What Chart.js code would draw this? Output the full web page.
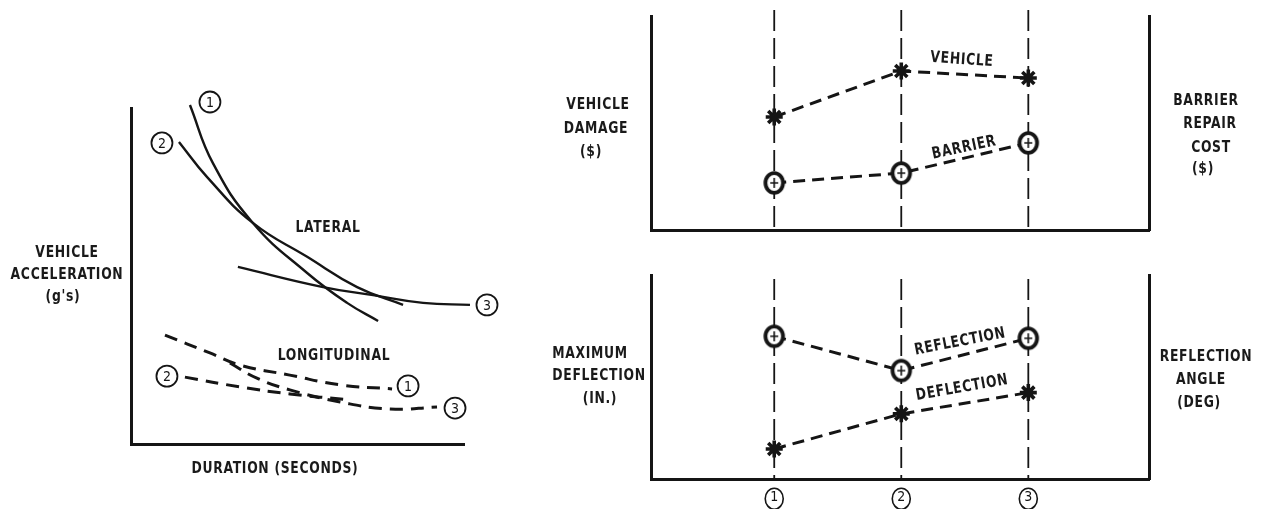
<!DOCTYPE html>
<html><head><meta charset="utf-8">
<script src="https://cdn.jsdelivr.net/npm/chart.js@4.4.0/dist/chart.umd.min.js"></script>
<style>
html,body{margin:0;padding:0;background:#fff;width:1268px;height:509px;overflow:hidden;position:relative}
.box{position:absolute}
.t{position:absolute;transform:translate(-50%,-50%) scaleX(0.86);white-space:nowrap;font:bold 16px "Liberation Sans Narrow","DejaVu Sans Condensed",sans-serif;letter-spacing:0.8px;color:#1a1a1a;line-height:1}
</style></head><body>
<div class="box" style="left:0;top:0;width:545px;height:509px"><canvas id="c1"></canvas></div>
<div class="box" style="left:540px;top:0;width:728px;height:250px"><canvas id="c2"></canvas></div>
<div class="box" style="left:540px;top:250px;width:728px;height:270px"><canvas id="c3"></canvas></div>

<div class="t" style="left:67px;top:252px">VEHICLE</div>
<div class="t" style="left:67px;top:274px">ACCELERATION</div>
<div class="t" style="left:63px;top:296px">(g's)</div>
<div class="t" style="left:275px;top:468px">DURATION (SECONDS)</div>
<div class="t" style="left:328px;top:227px">LATERAL</div>
<div class="t" style="left:334px;top:355px">LONGITUDINAL</div>

<div class="t" style="left:598px;top:104px">VEHICLE</div>
<div class="t" style="left:596px;top:128px">DAMAGE</div>
<div class="t" style="left:591px;top:151px">($)</div>
<div class="t" style="left:1206px;top:100px">BARRIER</div>
<div class="t" style="left:1210px;top:123px">REPAIR</div>
<div class="t" style="left:1211px;top:147px">COST</div>
<div class="t" style="left:1203px;top:168px">($)</div>
<div class="t" style="left:962px;top:59px;transform:translate(-50%,-50%) rotate(4deg) scaleX(0.86)">VEHICLE</div>
<div class="t" style="left:964px;top:147px;transform:translate(-50%,-50%) rotate(-12deg) scaleX(0.86)">BARRIER</div>

<div class="t" style="left:590px;top:353px">MAXIMUM</div>
<div class="t" style="left:599px;top:375px">DEFLECTION</div>
<div class="t" style="left:600px;top:398px">(IN.)</div>
<div class="t" style="left:1206px;top:356px">REFLECTION</div>
<div class="t" style="left:1201px;top:379px">ANGLE</div>
<div class="t" style="left:1199px;top:402px">(DEG)</div>
<div class="t" style="left:960px;top:341px;transform:translate(-50%,-50%) rotate(-11deg) scaleX(0.86)">REFLECTION</div>
<div class="t" style="left:962px;top:387px;transform:translate(-50%,-50%) rotate(-10deg) scaleX(0.86)">DEFLECTION</div>

<script>
// ---------- DATA ----------
// Left chart: vehicle acceleration vs duration (schematic, arbitrary 0-100 units)
const lateral1X = [17.7, 24.6, 36.6, 52.9, 64.9, 74.2];
const lateral1Y = [100.9, 83.6, 65.8, 50.9, 42.0, 36.6];
const lateral2X = [14.4, 22.8, 36.6, 52.9, 67.9, 81.7];
const lateral2Y = [89.9, 79.5, 65.8, 55.7, 46.7, 41.4];
const lateral3X = [32.1, 57.7, 72.7, 87.7, 101.8];
const lateral3Y = [52.7, 46.7, 44.3, 42.0, 41.4];
const longit1X = [10.2, 23.7, 32.7, 47.7, 62.8, 78.4];
const longit1Y = [32.4, 27.1, 23.5, 20.5, 17.6, 16.4];
const longit2X = [16.2, 32.7, 47.7, 65.8];
const longit2Y = [19.9, 17.0, 14.9, 13.1];
const longit3X = [29.7, 37.8, 47.7, 62.8, 77.8, 91.9];
const longit3Y = [24.1, 19.6, 16.1, 12.5, 10.4, 11.0];

// Right charts: barrier systems 1, 2, 3
const tests = [1, 2, 3];
const tickLabels = ['1', '2', '3'];
const vehicleDamage = [5.28, 7.43, 7.10];
const barrierRepairCost = [2.20, 2.66, 4.07];
const reflectionAngle = [7.00, 5.32, 6.90];
const maxDeflection = [1.48, 3.20, 4.24];

// ---------- STYLE ----------
const INK = '#151515';
const FONT = '"Liberation Sans Narrow","DejaVu Sans Condensed",sans-serif';
Chart.defaults.font.family = FONT;
Chart.defaults.color = INK;

function xy(xs, ys) { return xs.map((x, i) => ({x: x, y: ys[i]})); }

function circleMarker() {
  const c = document.createElement('canvas');
  c.width = 26; c.height = 26;
  const g = c.getContext('2d');
  g.beginPath(); g.ellipse(13, 13, 8.8, 9.8, 0, 0, Math.PI * 2);
  g.fillStyle = '#fff'; g.fill();
  g.lineWidth = 3.8; g.strokeStyle = INK; g.stroke();
  g.lineWidth = 1.6;
  g.beginPath(); g.moveTo(13, 8); g.lineTo(13, 18); g.moveTo(9, 13); g.lineTo(17, 13); g.stroke();
  return c;
}
const CIRC = circleMarker();

function drawCircled(ctx, cx, cy, txt, rx, ry, size) {
  ctx.save();
  ctx.beginPath(); ctx.ellipse(cx, cy, rx, ry, 0, 0, Math.PI * 2);
  ctx.fillStyle = '#fff'; ctx.fill();
  ctx.lineWidth = 1.8; ctx.strokeStyle = INK; ctx.stroke();
  ctx.fillStyle = INK; ctx.font = size + 'px ' + FONT;
  ctx.textAlign = 'center'; ctx.textBaseline = 'middle';
  ctx.fillText(txt, cx, cy + 1);
  ctx.restore();
}

const curveTags = {
  id: 'curveTags',
  afterDatasetsDraw(chart) {
    chart.data.datasets.forEach((ds, i) => {
      if (!ds.tag) return;
      const pts = chart.getDatasetMeta(i).data;
      const p = ds.tagAt === 'start' ? pts[0] : pts[pts.length - 1];
      drawCircled(chart.ctx, p.x + ds.tagOffset[0], p.y + ds.tagOffset[1], ds.tag, 10.5, 10.5, 14);
    });
  }
};

const guides = {
  id: 'guides',
  beforeDatasetsDraw(chart, args, opts) {
    const xs = chart.scales.x, ctx = chart.ctx, a = chart.chartArea;
    ctx.save();
    ctx.strokeStyle = INK; ctx.lineWidth = 1.8; ctx.setLineDash([21, 7]);
    tests.forEach(v => {
      const px = xs.getPixelForValue(v);
      ctx.beginPath(); ctx.moveTo(px, a.top - opts.extendTop); ctx.lineTo(px, a.bottom); ctx.stroke();
    });
    ctx.restore();
  }
};

const tickCircles = {
  id: 'tickCircles',
  afterDraw(chart, args, opts) {
    if (!opts.show) return;
    const xs = chart.scales.x, ctx = chart.ctx;
    xs.ticks.forEach(t => {
      const cx = xs.getPixelForValue(t.value);
      const cy = xs.top + opts.dy;
      ctx.save();
      ctx.beginPath(); ctx.ellipse(cx, cy, 9, 10.5, 0, 0, Math.PI * 2);
      ctx.lineWidth = 1.6; ctx.strokeStyle = INK; ctx.stroke();
      ctx.restore();
    });
  }
};

function axisOpts(extra) {
  return Object.assign({
    type: 'linear', display: true,
    grid: {display: false, drawTicks: false},
    ticks: {display: false},
    border: {display: true, color: INK, width: 3}
  }, extra);
}

const common = {
  responsive: true, maintainAspectRatio: false, animation: false, devicePixelRatio: 1,
  events: []
};

// ---------- LEFT CHART ----------
function curve(xs, ys, dashed, tag, tagAt, tagOffset) {
  return {
    data: xy(xs, ys), borderColor: INK, borderWidth: dashed ? 3 : 2.4,
    borderDash: dashed ? [13, 8] : [], pointRadius: 0, fill: false,
    tension: 0.45, clip: false,
    tag: tag, tagAt: tagAt, tagOffset: tagOffset
  };
}
new Chart(document.getElementById('c1'), {
  type: 'line',
  data: {datasets: [
    curve(lateral1X, lateral1Y, false, '1', 'start', [20, -3]),
    curve(lateral2X, lateral2Y, false, '2', 'start', [-17, 1]),
    curve(lateral3X, lateral3Y, false, '3', 'end', [17, 0]),
    curve(longit1X, longit1Y, true, '1', 'end', [16, -3]),
    curve(longit2X, longit2Y, true, '2', 'start', [-18, -1]),
    curve(longit3X, longit3Y, true, '3', 'end', [18, 1])
  ]},
  options: Object.assign({}, common, {
    layout: {padding: {left: 131, top: 108, right: 81, bottom: 65}},
    plugins: {legend: {display: false}, tooltip: {enabled: false}},
    scales: {
      x: axisOpts({min: 0, max: 100}),
      y: axisOpts({min: 0, max: 100})
    }
  }),
  plugins: [curveTags]
});

// ---------- RIGHT CHARTS ----------
function series(values, style, axis) {
  const isStar = style === 'star';
  return {
    data: xy(tests, values), yAxisID: axis,
    borderColor: INK, borderWidth: 3, borderDash: [12, 7], fill: false, tension: 0,
    pointStyle: isStar ? 'star' : CIRC,
    pointRadius: isStar ? 8.5 : 13, pointBorderWidth: isStar ? 3.6 : 0,
    pointBorderColor: INK, pointBackgroundColor: INK, clip: false
  };
}
function rightOptions(padding, extendTop, showTicks) {
  return Object.assign({}, common, {
    layout: {padding: padding},
    plugins: {legend: {display: false}, tooltip: {enabled: false},
      guides: {extendTop: extendTop}, tickCircles: {show: showTicks, dy: 19.5}},
    scales: {
      x: axisOpts({min: 0.03, max: 3.95,
        afterBuildTicks: s => { s.ticks = tests.map(v => ({value: v})); },
        ticks: showTicks ? {display: true, padding: 10, font: {size: 14},
          color: INK, callback: v => tickLabels[tests.indexOf(v)] || ''} : {display: false}}),
      y: axisOpts({min: 0, max: 10, position: 'left'}),
      y2: axisOpts({min: 0, max: 10, position: 'right'})
    }
  });
}
new Chart(document.getElementById('c2'), {
  type: 'line',
  data: {datasets: [
    series(vehicleDamage, 'star', 'y'),
    series(barrierRepairCost, 'circle', 'y2')
  ]},
  options: rightOptions({left: 111, right: 119, top: 16, bottom: 20}, 6, false),
  plugins: [guides, tickCircles]
});
new Chart(document.getElementById('c3'), {
  type: 'line',
  data: {datasets: [
    series(reflectionAngle, 'circle', 'y2'),
    series(maxDeflection, 'star', 'y')
  ]},
  options: rightOptions({left: 111, right: 119, top: 25, bottom: 4}, -4, true),
  plugins: [guides, tickCircles]
});
</script>
</body></html>
